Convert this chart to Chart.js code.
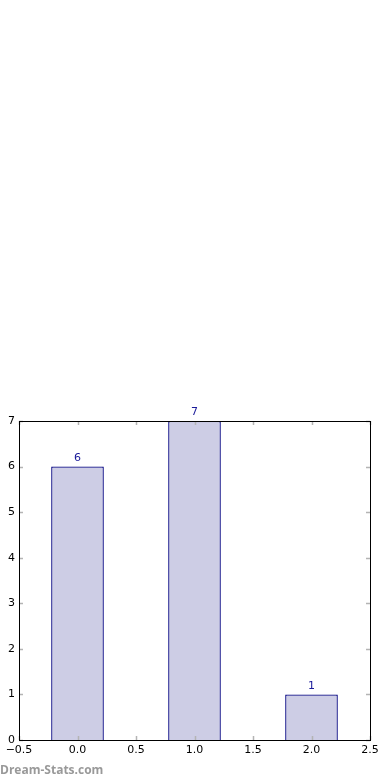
<!DOCTYPE html>
<html>
<head>
<meta charset="utf-8">
<script src="https://cdn.jsdelivr.net/npm/chart.js@4/dist/chart.umd.min.js"></script>
<style>
  html, body { margin: 0; padding: 0; background: #fff; }
  #wrap { position: relative; width: 390px; height: 780px; }
  #mark {
    position: absolute; left: 0; top: 761px;
    font-family: "Open Sans", sans-serif; font-weight: 700;
    font-size: 12px; color: #999999;
  }
</style>
</head>
<body>
<div id="wrap">
  <canvas id="chart" width="390" height="780"></canvas>
  <div id="mark">Dream-Stats.com</div>
</div>
<script>
const categories = ["0", "1", "2"];
const counts = [6, 7, 1];
const xTicks = [-0.5, 0, 0.5, 1, 1.5, 2, 2.5];
const yTicks = [0, 1, 2, 3, 4, 5, 6, 7];

function fmtX(v) {
  return v.toFixed(1).replace("-", "\u2212");
}

const frameTicks = {
  id: "frameTicks",
  afterDatasetsDraw(chart) {
    const ctx = chart.ctx;
    const a = chart.chartArea;
    const xs = chart.scales.xv;
    const ys = chart.scales.y;
    ctx.save();
    ctx.strokeStyle = "#b4b4b4";
    ctx.lineWidth = 1.5;
    xTicks.forEach((t) => {
      const px = Math.round(xs.getPixelForValue(t)) + 0.5;
      ctx.beginPath();
      ctx.moveTo(px, a.bottom); ctx.lineTo(px, a.bottom - 4);
      ctx.moveTo(px, a.top); ctx.lineTo(px, a.top + 4);
      ctx.stroke();
    });
    yTicks.forEach((t) => {
      const py = Math.round(ys.getPixelForValue(t)) + 0.5;
      ctx.beginPath();
      ctx.moveTo(a.left, py); ctx.lineTo(a.left + 4, py);
      ctx.moveTo(a.right, py); ctx.lineTo(a.right - 4, py);
      ctx.stroke();
    });
    ctx.strokeStyle = "#000";
    ctx.lineWidth = 1;
    ctx.strokeRect(Math.round(a.left) + 0.5, Math.round(a.top) + 0.5,
      Math.round(a.right - a.left), Math.round(a.bottom - a.top));

    ctx.fillStyle = "#1a1a9a";
    ctx.font = "11px 'DejaVu Sans', sans-serif";
    ctx.textAlign = "center";
    ctx.textBaseline = "bottom";
    chart.getDatasetMeta(0).data.forEach((bar, i) => {
      ctx.fillText(String(counts[i]), bar.x, bar.y - 3);
    });
    ctx.restore();
  }
};

new Chart(document.getElementById("chart"), {
  type: "bar",
  data: {
    labels: categories,
    datasets: [
      {
        data: counts,
        backgroundColor: "#cdcde5",
        borderColor: "#000080",
        borderWidth: 1.3,
        barPercentage: 0.45,
        categoryPercentage: 1
      }
    ]
  },
  options: {
    responsive: false,
    animation: false,
    layout: { padding: { left: 0, right: 20, top: 421, bottom: 0 } },
    plugins: { legend: { display: false }, tooltip: { enabled: false } },
    scales: {
      x: {
        display: false,
        offset: true
      },
      xv: {
        type: "linear",
        position: "bottom",
        offset: false,
        min: -0.5,
        max: 2.5,
        afterBuildTicks(scale) {
          scale.ticks = xTicks.map((v) => ({ value: v }));
        },
        afterFit(scale) { scale.height = 40; },
        grid: { display: false, drawTicks: false, offset: false },
        border: { display: false },
        ticks: {
          padding: 4,
          color: "#000",
          font: { family: "'DejaVu Sans', sans-serif", size: 11 },
          callback: (v) => fmtX(v)
        }
      },
      y: {
        min: 0,
        max: 7,
        afterBuildTicks(scale) {
          scale.ticks = yTicks.map((v) => ({ value: v }));
        },
        afterFit(scale) { scale.width = 19; },
        grid: { display: false, drawTicks: false },
        border: { display: false },
        ticks: {
          padding: 4,
          color: "#000",
          font: { family: "'DejaVu Sans', sans-serif", size: 11 }
        }
      }
    }
  },
  plugins: [frameTicks]
});
</script>
</body>
</html>
